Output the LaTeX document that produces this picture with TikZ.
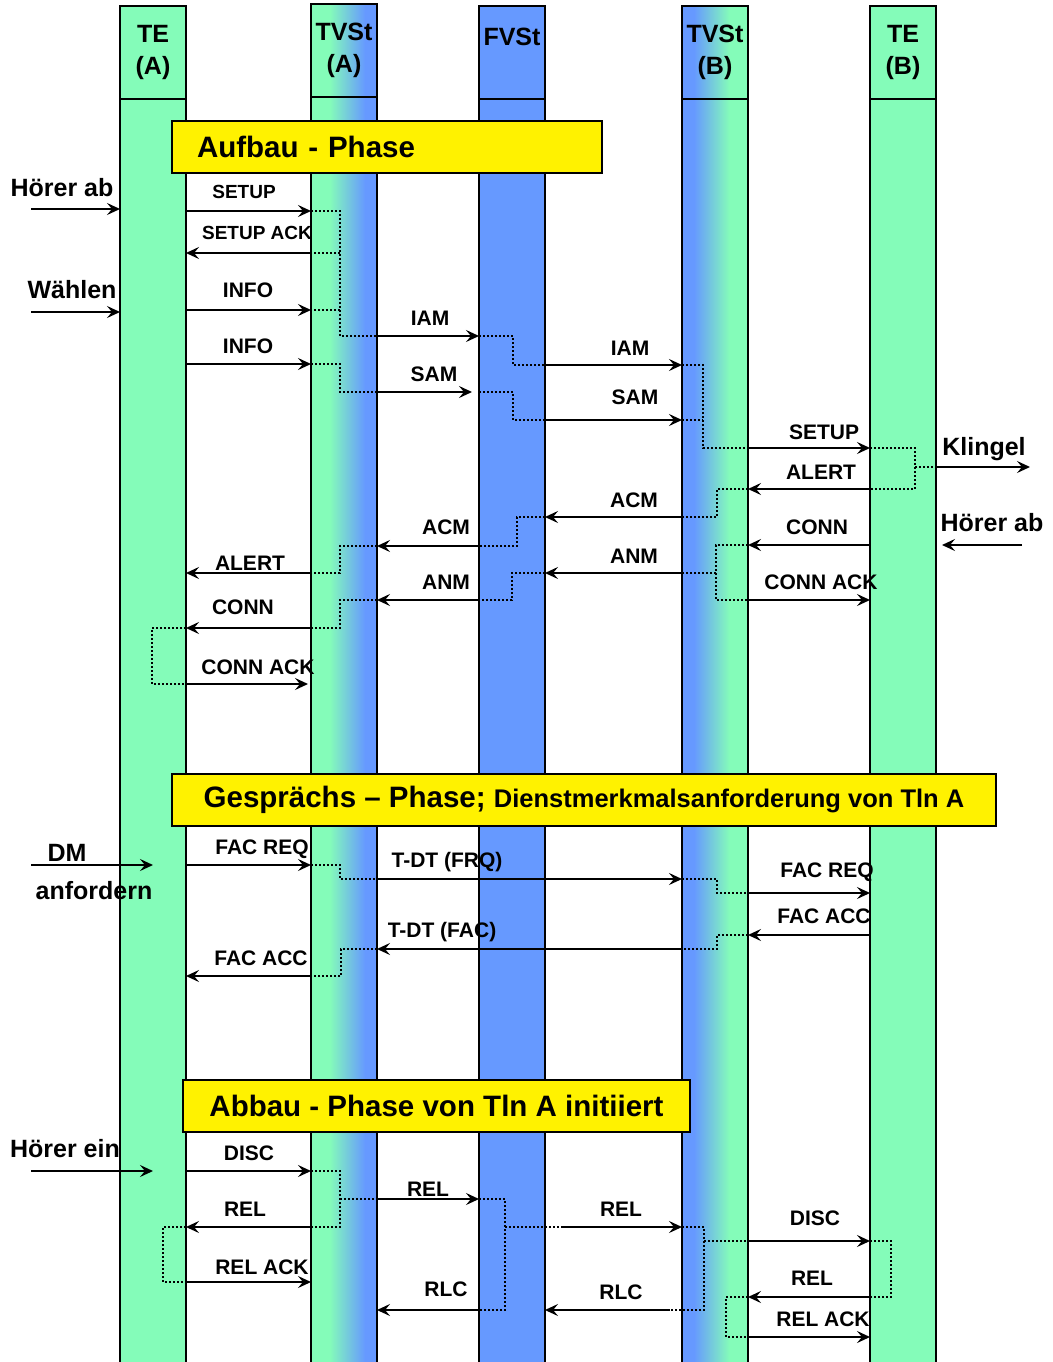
\documentclass[tikz,border=0pt]{standalone}
\usepackage{fontspec}
\setmainfont{Liberation Sans}
\usetikzlibrary{arrows.meta}
\usetikzlibrary{positioning}
\definecolor{tegreen}{RGB}{132,252,185}
\definecolor{fvblue}{RGB}{102,153,255}
\pgfdeclarehorizontalshading{tvsAshade}{100bp}{color(0bp)=(tegreen); color(39bp)=(tegreen); color(66bp)=(fvblue); color(100bp)=(fvblue)}
\pgfdeclarehorizontalshading{tvsBshade}{100bp}{color(0bp)=(fvblue); color(34bp)=(fvblue); color(61bp)=(tegreen); color(100bp)=(tegreen)}

\begin{document}
\begin{tikzpicture}[x=1pt, y=-1pt,
  hdr/.style={draw, line width=2pt, minimum width=66pt, minimum height=93pt, inner sep=0pt, outer sep=0pt, align=center, font=\fontsize{25}{32}\selectfont\bfseries},
  body/.style={draw, line width=2pt, minimum width=66pt, minimum height=1300pt, inner sep=0pt, outer sep=0pt},
  phasebox/.style={draw, fill=yellow, line width=2pt, inner sep=0pt, outer sep=0pt, minimum height=52pt, font=\fontsize{29.5}{30}\selectfont\bfseries},
  msg/.style={line width=2.2pt, -{Stealth[length=13pt, width=12pt, inset=5pt]}},
  dots/.style={line width=1.8pt, dash pattern=on 1.8pt off 2.2pt},
  lbl/.style={inner sep=0pt, font=\fontsize{21}{21}\selectfont\bfseries},
  lbls/.style={inner sep=0pt, font=\fontsize{19}{19}\selectfont\bfseries},
  extlbl/.style={inner sep=0pt, font=\fontsize{25}{25}\selectfont\bfseries}]
\useasboundingbox (0,0) rectangle (1052,1362);

\node[hdr, fill=tegreen] (teAh) at (153,52.5) {TE\\(A)};
\node[hdr, shade, shading=tvsAshade] (tvsAh) at (344,50.5) {TVSt\\(A)};
\node[hdr, fill=fvblue] (fvsh) at (512,52.5) {FVSt\\\mbox{}};
\node[hdr, shade, shading=tvsBshade] (tvsBh) at (715,52.5) {TVSt\\(B)};
\node[hdr, fill=tegreen] (teBh) at (903,52.5) {TE\\(B)};
\node[body, fill=tegreen, below=0pt of teAh] (teA) {};
\node[body, shade, shading=tvsAshade, below=0pt of tvsAh] (tvsA) {};
\node[body, fill=fvblue, below=0pt of fvsh] (fvs) {};
\node[body, shade, shading=tvsBshade, below=0pt of tvsBh] (tvsB) {};
\node[body, fill=tegreen, below=0pt of teBh] (teB) {};

\node[phasebox, anchor=north west, text width=380pt, inner xsep=25pt, align=left] (aufbau) at (172,121) {Aufbau - Phase};
\node[phasebox, anchor=north west, minimum width=824pt] (gespraech) at (172,774) {{\fontsize{29.5}{30}\selectfont Gesprächs – Phase;} {\fontsize{25.5}{26}\selectfont Dienstmerkmalsanforderung von Tln A}};
\node[phasebox, anchor=north west, minimum width=507pt] (abbau) at (183,1080) {Abbau - Phase von Tln A initiiert};

\coordinate (hoererAb) at (31,209);
\coordinate (waehlen) at (31,312);
\coordinate (dm) at (31,865);
\coordinate (hoererEin) at (31,1171);
\coordinate (klingel) at (1030,467);
\coordinate (hoererAbB) at (1022,545);
\coordinate (relStart) at (561,1227);
\coordinate (rlcStart) at (670,1310);

\draw[dots] (311,211) -| (340,336) -- (377,336);
\draw[dots] (340,253) -- (311,253);
\draw[dots] (340,310) -- (311,310);
\draw[dots] (311,364) -| (340,392) -- (377,392);
\draw[dots] (479,336) -| (513,365) -- (545,365);
\draw[dots] (479,392) -| (513,420) -- (545,420);
\draw[dots] (682,365) -| (703,448) -- (748,448);
\draw[dots] (682,420) -- (703,420);
\draw[dots] (870,448) -| (915,489) -- (870,489);
\draw[dots] (915,467) -- (936,467);
\draw[dots] (748,489) -| (717,517) -- (682,517);
\draw[dots] (545,517) -| (517,546) -- (479,546);
\draw[dots] (748,545) -| (716,600) -- (748,600);
\draw[dots] (716,573) -- (682,573);
\draw[dots] (545,573) -| (512,600) -- (479,600);
\draw[dots] (377,546) -| (340,573) -- (311,573);
\draw[dots] (377,600) -| (340,628) -- (311,628);
\draw[dots] (186,628) -| (152,684) -- (186,684);
\draw[dots] (311,865) -| (340,879) -- (377,879);
\draw[dots] (682,879) -| (717,893) -- (748,893);
\draw[dots] (748,935) -| (717,949) -- (682,949);
\draw[dots] (377,949) -| (341,976) -- (311,976);
\draw[dots] (311,1171) -| (340,1227) -- (311,1227);
\draw[dots] (340,1199) -- (377,1199);
\draw[dots] (186,1227) -| (163,1282) -- (186,1282);
\draw[dots] (479,1199) -| (505,1310) -- (479,1310);
\draw[dots] (505,1227) -- (relStart);
\draw[dots] (682,1227) -| (704,1310) -- (rlcStart);
\draw[dots] (704,1241) -- (748,1241);
\draw[dots] (870,1241) -| (891,1297) -- (870,1297);
\draw[dots] (748,1297) -| (726,1337) -- (748,1337);

\draw[msg] (hoererAb) -- (teA.west |- hoererAb);
\draw[msg] (waehlen) -- (teA.west |- waehlen);
\draw[msg] (dm) -- (teA.center |- dm);
\draw[msg] (hoererEin) -- (teA.center |- hoererEin);
\draw[msg] (teB.east |- klingel) -- (klingel);
\draw[msg, shorten >=6pt] (hoererAbB) -- (teB.east |- hoererAbB);

\draw[msg] (teA.east |- 0,211) -- (tvsA.west |- 0,211) node[lbls] (lSetupA) at (244,192) {SETUP};
\draw[msg] (tvsA.west |- 0,253) -- (teA.east |- 0,253) node[lbls] (lSetupAck) at (257,233) {SETUP ACK};
\draw[msg] (teA.east |- 0,310) -- (tvsA.west |- 0,310) node[lbl] (lInfoA) at (248,290) {INFO};
\draw[msg] (tvsA.east |- 0,336) -- (fvs.west |- 0,336) node[lbl] (lIamA) at (430,318) {IAM};
\draw[msg] (teA.east |- 0,364) -- (tvsA.west |- 0,364) node[lbl] (lInfoB) at (248,346) {INFO};
\draw[msg, shorten >=7pt] (tvsA.east |- 0,392) -- (fvs.west |- 0,392) node[lbl] (lSamA) at (434,374) {SAM};
\draw[msg] (fvs.east |- 0,365) -- (tvsB.west |- 0,365) node[lbl] (lIamB) at (630,348) {IAM};
\draw[msg] (fvs.east |- 0,420) -- (tvsB.west |- 0,420) node[lbl] (lSamB) at (635,397) {SAM};
\draw[msg] (tvsB.east |- 0,448) -- (teB.west |- 0,448) node[lbl] (lSetupB) at (824,432) {SETUP};
\draw[msg] (teB.west |- 0,489) -- (tvsB.east |- 0,489) node[lbl] (lAlertB) at (821,472) {ALERT};
\draw[msg] (tvsB.west |- 0,517) -- (fvs.east |- 0,517) node[lbl] (lAcmB) at (634,500) {ACM};
\draw[msg] (fvs.west |- 0,546) -- (tvsA.east |- 0,546) node[lbl] (lAcmA) at (446,527) {ACM};
\draw[msg] (teB.west |- 0,545) -- (tvsB.east |- 0,545) node[lbl] (lConnB) at (817,527) {CONN};
\draw[msg] (tvsB.west |- 0,573) -- (fvs.east |- 0,573) node[lbl] (lAnmB) at (634,556) {ANM};
\draw[msg] (tvsB.east |- 0,600) -- (teB.west |- 0,600) node[lbl] (lConnAckB) at (821,582) {CONN ACK};
\draw[msg] (fvs.west |- 0,600) -- (tvsA.east |- 0,600) node[lbl] (lAnmA) at (446,582) {ANM};
\draw[msg] (tvsA.west |- 0,573) -- (teA.east |- 0,573) node[lbl] (lAlertA) at (250,563) {ALERT};
\draw[msg] (tvsA.west |- 0,628) -- (teA.east |- 0,628) node[lbl] (lConnA) at (243,607) {CONN};
\draw[msg, shorten >=3pt] (teA.east |- 0,684) -- (tvsA.west |- 0,684) node[lbl] (lConnAckA) at (258,667) {CONN ACK};

\draw[msg] (teA.east |- 0,865) -- (tvsA.west |- 0,865) node[lbl] (lFacReqA) at (262,849) {FAC REQ};
\draw[msg] (tvsA.east |- 0,879) -- (tvsB.west |- 0,879) node[lbl] (lTdtFrq) at (447,862) {T-DT (FRQ)};
\draw[msg] (tvsB.east |- 0,893) -- (teB.west |- 0,893) node[lbl] (lFacReqB) at (827,872) {FAC REQ};
\draw[msg] (teB.west |- 0,935) -- (tvsB.east |- 0,935) node[lbl] (lFacAccB) at (824,916) {FAC ACC};
\draw[msg] (tvsB.west |- 0,949) -- (tvsA.east |- 0,949) node[lbl] (lTdtFac) at (442,932) {T-DT (FAC)};
\draw[msg] (tvsA.west |- 0,976) -- (teA.east |- 0,976) node[lbl] (lFacAccA) at (261,958) {FAC ACC};

\draw[msg] (teA.east |- 0,1171) -- (tvsA.west |- 0,1171) node[lbl] (lDiscA) at (249,1153) {DISC};
\draw[msg] (tvsA.east |- 0,1199) -- (fvs.west |- 0,1199) node[lbl] (lRelA) at (428,1189) {REL};
\draw[msg] (tvsA.west |- 0,1227) -- (teA.east |- 0,1227) node[lbl] (lRelAa) at (245,1209) {REL};
\draw[msg] (teA.east |- 0,1282) -- (tvsA.west |- 0,1282) node[lbl] (lRelAckA) at (262,1267) {REL ACK};
\draw[msg] (relStart) -- (tvsB.west |- relStart) node[lbl] (lRelB) at (621,1209) {REL};
\draw[msg] (rlcStart) -- (fvs.east |- rlcStart) node[lbl] (lRlcB) at (621,1292) {RLC};
\draw[msg] (fvs.west |- 0,1310) -- (tvsA.east |- 0,1310) node[lbl] (lRlcA) at (446,1289) {RLC};
\draw[msg] (tvsB.east |- 0,1241) -- (teB.west |- 0,1241) node[lbl] (lDiscB) at (815,1218) {DISC};
\draw[msg] (teB.west |- 0,1297) -- (tvsB.east |- 0,1297) node[lbl] (lRelBb) at (812,1278) {REL};
\draw[msg] (tvsB.east |- 0,1337) -- (teB.west |- 0,1337) node[lbl] (lRelAckB) at (823,1319) {REL ACK};

\node[extlbl] (tHoererAb) at (62,188) {Hörer ab};
\node[extlbl] (tWaehlen) at (72,290) {Wählen};
\node[extlbl] (tDm) at (67,853) {DM};
\node[extlbl] (tAnfordern) at (94,891) {anfordern};
\node[extlbl] (tHoererEin) at (65,1149) {Hörer ein};
\node[extlbl] (tKlingel) at (984,449) {Klingel};
\node[extlbl] (tHoererAbB) at (992,523) {Hörer ab};
\end{tikzpicture}
\end{document}
